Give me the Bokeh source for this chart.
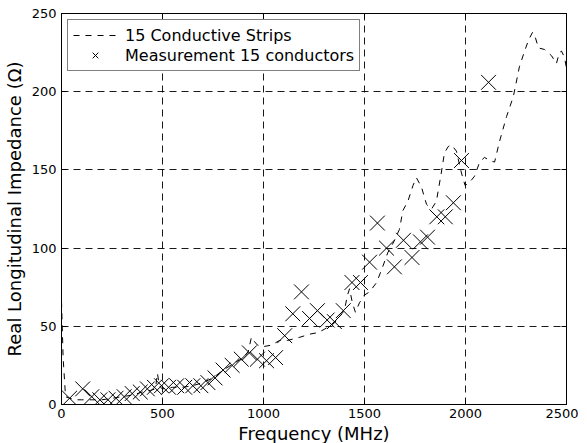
from bokeh.plotting import figure
from bokeh.models import Range1d, LinearAxis, Legend, LegendItem
from bokeh.embed import file_html
from bokeh.resources import INLINE

# Simulation: 15 conductive strips (frequency in MHz, real longitudinal impedance in Ohm)
sim_freq = [0, 8, 20, 40, 70, 100, 150, 200, 250, 300,
            350, 400, 440, 465, 475, 482, 490, 500, 550, 600,
            650, 700, 750, 800, 850, 900, 925, 940, 950, 970,
            1000, 1040, 1080, 1120, 1180, 1230, 1270, 1300, 1350, 1400,
            1416, 1426, 1440, 1455, 1475, 1500, 1525, 1560, 1590, 1615,
            1645, 1673, 1690, 1715, 1740, 1757, 1782, 1807, 1832, 1856,
            1880, 1896, 1915, 1931, 1955, 1980, 1998, 2020, 2045, 2070,
            2094, 2120, 2144, 2168, 2203, 2237, 2267, 2290, 2312, 2332,
            2345, 2361, 2391, 2426, 2450, 2465, 2475, 2490, 2500]
sim_re = [66, 30, 5, 4, 3, 3, 3, 3, 4, 5,
          6, 8, 9, 10, 20, 14, 11, 10, 11, 11,
          12, 14, 17, 22, 26, 30, 34, 43, 41, 38,
          37, 38, 41, 41, 43, 45, 46, 48, 52, 60,
          70, 74, 65, 59, 65, 70, 72, 78, 88, 97,
          104, 112, 124, 130, 140, 145, 139, 128, 125, 130,
          148, 161, 165, 166, 162, 148, 140, 142, 146, 155,
          158, 156, 155, 168, 184, 197, 216, 225, 233, 238,
          235, 228, 227, 223, 218, 225, 226, 222, 215]

# Measurement: 15 conductors
meas_freq = [40, 105, 150, 190, 230, 270, 310, 350, 390, 425,
             460, 495, 530, 570, 610, 650, 690, 725, 760, 800,
             845, 890, 930, 970, 1015, 1060, 1105, 1145, 1188, 1228,
             1267, 1315, 1351, 1395, 1438, 1480, 1525, 1564, 1609, 1648,
             1693, 1735, 1777, 1812, 1858, 1900, 1940, 1980, 2114]
meas_re = [4, 10, 5, 3, 3, 4, 5, 7, 8, 10,
           11, 12, 11, 12, 11, 12, 12, 14, 17, 22,
           25, 29, 33, 29, 28, 30, 44, 58, 72, 55,
           60, 54, 53, 60, 78, 78, 91, 116, 100, 88,
           105, 94, 104, 107, 120, 120, 129, 156, 206]

x_ticks = [0, 500, 1000, 1500, 2000, 2500]
y_ticks = [0, 50, 100, 150, 200, 250]

FONT = "DejaVu Sans"

p = figure(frame_width=505, frame_height=391,
           x_range=Range1d(0, 2500), y_range=Range1d(0, 250),
           output_backend="svg", toolbar_location=None,
           min_border_left=54, min_border_right=12,
           min_border_top=13, min_border_bottom=31)

p.background_fill_color = "white"
p.border_fill_color = "white"
p.outline_line_color = "black"
p.outline_line_width = 1

# main axes
p.xaxis.ticker = x_ticks
p.yaxis.ticker = y_ticks
p.xaxis.axis_label = "Frequency (MHz)"
p.yaxis.axis_label = "Real Longitudinal Impedance (Ω)"
for ax in (p.xaxis[0], p.yaxis[0]):
    ax.axis_label_text_font = FONT
    ax.axis_label_text_font_size = "18px"
    ax.axis_label_text_font_style = "normal"
    ax.axis_label_text_color = "black"
    ax.major_label_text_font = FONT
    ax.major_label_text_font_size = "13px"
    ax.major_label_text_color = "black"
    ax.major_tick_in = 5
    ax.major_tick_out = 0
    ax.minor_tick_line_color = None
    ax.axis_line_color = "black"
    ax.major_tick_line_color = "black"
p.xaxis.major_label_standoff = 4
p.xaxis.axis_label_standoff = 2
p.yaxis.major_label_standoff = 5
p.yaxis.axis_label_standoff = 4

# mirrored tick marks on top and right
top_ax = LinearAxis(ticker=x_ticks, major_label_text_font_size="0px",
                    major_label_standoff=0, major_tick_in=5, major_tick_out=0,
                    minor_tick_line_color=None, axis_line_color="black")
right_ax = LinearAxis(ticker=y_ticks, major_label_text_font_size="0px",
                      major_label_standoff=0, major_tick_in=5, major_tick_out=0,
                      minor_tick_line_color=None, axis_line_color="black")
top_ax.major_label_overrides = {t: "" for t in x_ticks}
right_ax.major_label_overrides = {t: "" for t in y_ticks}
p.add_layout(top_ax, "above")
p.add_layout(right_ax, "right")

# grid
p.grid.grid_line_color = "black"
p.grid.grid_line_alpha = 0.9
p.grid.grid_line_dash = "7 5"
p.grid.grid_line_width = 1

sim_r = p.line(sim_freq, sim_re, line_color="black", line_width=1, line_dash="6 6")
meas_r = p.scatter(meas_freq, meas_re, marker="x", size=21, line_color="black",
                   line_width=1)

legend = Legend(items=[LegendItem(label="15 Conductive Strips", renderers=[sim_r]),
                       LegendItem(label="Measurement 15 conductors", renderers=[meas_r])],
                location="top_left")
legend.margin = 6
legend.padding = 5
legend.spacing = 0
legend.glyph_width = 44
legend.glyph_height = 20
legend.label_height = 20
legend.label_standoff = 8
legend.label_text_font = FONT
legend.label_text_font_size = "16px"
legend.label_text_color = "black"
legend.border_line_color = "black"
legend.border_line_width = 1
legend.background_fill_color = "white"
legend.background_fill_alpha = 1
p.add_layout(legend, "center")

open("out.html", "w").write(file_html(p, INLINE))
